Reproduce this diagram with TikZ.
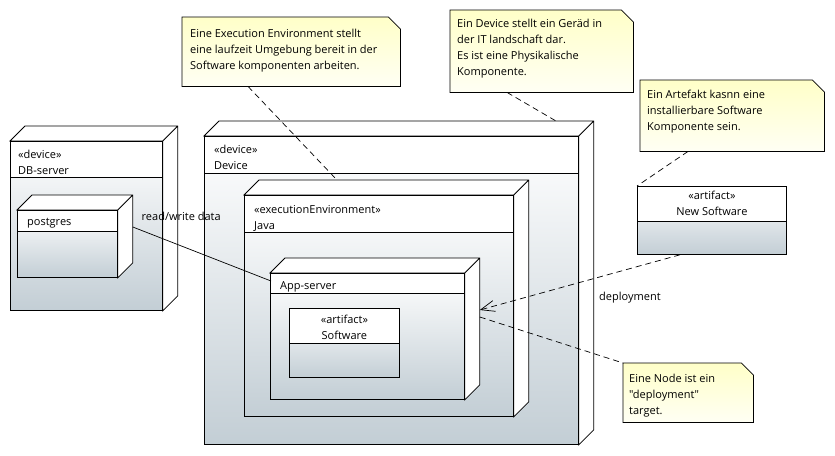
\documentclass[tikz,border=0pt]{standalone}
\usepackage{fontspec}
\setmainfont{Open Sans}[Ligatures=TeXOff]
\usetikzlibrary{arrows.meta,positioning}
\definecolor{bodygray}{HTML}{C3CED5}
\definecolor{notefill}{HTML}{FFFFC8}
\definecolor{notelight}{HTML}{FFFFF4}

\begin{document}
\begin{tikzpicture}[
    x=1pt, y=-1pt,
    font=\fontsize{11}{16}\selectfont,
    edge/.style={line width=.8pt, draw=black},
    box/.style={edge, fill=white, anchor=north west, inner sep=0pt,
                path picture={\shade[top color=white, bottom color=bodygray]
                  ([yshift=-#1]path picture bounding box.north west) rectangle (path picture bounding box.south east);
                  \draw[edge] ([yshift=-#1]path picture bounding box.north west) -- ([yshift=-#1]path picture bounding box.north east);}},
    cube/.style={box=#1, append after command={\pgfextra{
                  \draw[edge, fill=white] (\tikzlastnode.north west) -- ([shift={(15,-15)}]\tikzlastnode.north west)
                    -- ([shift={(15,-15)}]\tikzlastnode.north east) -- ([shift={(15,-15)}]\tikzlastnode.south east)
                    -- (\tikzlastnode.south east) -- (\tikzlastnode.north east) -- cycle
                    (\tikzlastnode.north east) -- ([shift={(15,-15)}]\tikzlastnode.north east);}}},
    note/.style={anchor=north west, inner sep=0pt,
                 append after command={\pgfextra{
                  \draw[edge, top color=notefill, bottom color=notelight] (\tikzlastnode.north west)
                    -- ([xshift=-12]\tikzlastnode.north east) -- ([yshift=-12]\tikzlastnode.north east)
                    -- (\tikzlastnode.south east) -- (\tikzlastnode.south west) -- cycle;}}},
    tag/.style={anchor=north west, align=left, inner sep=0pt},
    stereo/.style={anchor=north, align=center, inner sep=0pt},
    link/.style={edge, line width=.7pt},
    dep/.style={edge, line width=.7pt, dash pattern=on 6pt off 4pt}
]
\useasboundingbox (0,0) rectangle (835,455);

% DB-server with postgres
\node[cube=36, minimum width=152, minimum height=169] (db) at (10,141) {};
\node[tag] at ([xshift=8,yshift=-9]db.north west) {«device»\\DB-server};
\node[cube=21, minimum width=100, minimum height=67] (pg) at (17,210) {};
\node[tag] at ([xshift=10,yshift=-8]pg.north west) {postgres};

% Device > Java > App-server > Software
\node[cube=37, minimum width=374, minimum height=308] (dev) at (204,136) {};
\node[tag] at ([xshift=10,yshift=-9]dev.north west) {«device»\\Device};
\node[cube=37, minimum width=269, minimum height=221] (java) at (244,195) {};
\node[tag] at ([xshift=10,yshift=-10]java.north west) {«executionEnvironment»\\Java};
\node[cube=20, minimum width=194, minimum height=126] (app) at (270,273) {};
\node[tag] at ([xshift=10,yshift=-8]app.north west) {App-server};
\node[box=35, minimum width=110, minimum height=69] (sw) at (289,308) {};
\node[stereo] at ([yshift=-7]sw.north) {«artifact»\\Software};

\node[box=35, minimum width=149, minimum height=68] (newsw) at (637,186) {};
\node[stereo] at ([yshift=-5]newsw.north) {«artifact»\\New Software};

% notes
\node[note, minimum width=218, minimum height=69] (n1) at (182,17) {};
\node[tag] at ([xshift=8,yshift=-12]n1.north west) {Eine Execution Environment stellt\\eine laufzeit Umgebung bereit in der\\Software komponenten arbeiten.};
\node[note, minimum width=183, minimum height=82] (n2) at (450,10) {};
\node[tag] at ([xshift=7,yshift=-9]n2.north west) {Ein Device stellt ein Geräd in\\der IT landschaft dar.\\Es ist eine Physikalische\\Komponente.};
\node[note, minimum width=184, minimum height=71] (n3) at (640,80) {};
\node[tag] at ([xshift=7,yshift=-10]n3.north west) {Ein Artefakt kasnn eine\\installierbare Software\\Komponente sein.};
\node[note, minimum width=130, minimum height=59] (n4) at (623,363) {};
\node[tag] at ([xshift=6,yshift=-11]n4.north west) {Eine Node ist ein\\"deployment"\\target.};

% connectors
\draw[link] ([xshift=15,yshift=-17]pg.north east) -- node[pos=.35, yshift=30] {read/write data} ([xshift=1,yshift=-8]app.north west);
\draw[dep, -{Straight Barb[length=14pt,width=11pt]}] ([xshift=43]newsw.south west) -- node[pos=.25, yshift=-29] {deployment} ([xshift=15,yshift=-37]app.north east);
\draw[dep] ([xshift=66]n1.south west) -- ([xshift=93,yshift=15]java.north west);
\draw[dep] ([xshift=57]n2.south west) -- ([xshift=352,yshift=15]dev.north west);
\draw[dep] ([xshift=48]n3.south west) -- (newsw.north west);
\draw[dep] ([xshift=15,yshift=-44]app.north east) -- (n4.north west);
\end{tikzpicture}
\end{document}
